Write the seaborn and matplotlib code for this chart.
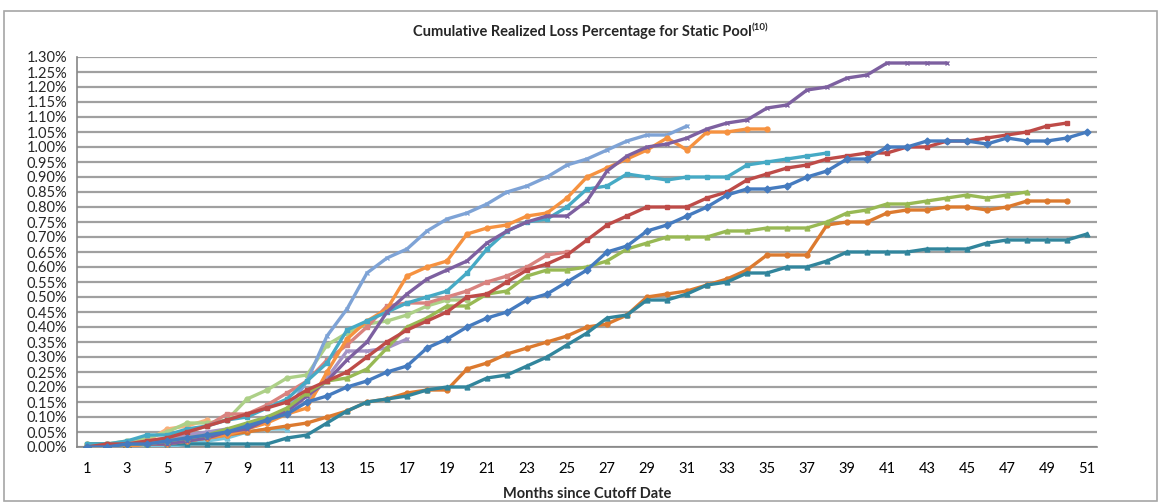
import matplotlib
matplotlib.use("Agg")
import matplotlib.pyplot as plt
from matplotlib.patches import Rectangle
import numpy as np
import pandas as pd
import seaborn as sns

# cumulative realized loss (%) by month since cutoff, one list per static pool
blue = [0.00, 0.00, 0.01, 0.01, 0.02, 0.03, 0.04, 0.05, 0.07, 0.09, 0.11, 0.15, 0.17, 0.20, 0.22, 0.25, 0.27,
        0.33, 0.36, 0.40, 0.43, 0.45, 0.49, 0.51, 0.55, 0.59, 0.65, 0.67, 0.72, 0.74, 0.77, 0.80, 0.84, 0.86,
        0.86, 0.87, 0.90, 0.92, 0.96, 0.96, 1.00, 1.00, 1.02, 1.02, 1.02, 1.01, 1.03, 1.02, 1.02, 1.03, 1.05]
red = [0.00, 0.01, 0.01, 0.02, 0.03, 0.05, 0.07, 0.09, 0.11, 0.13, 0.15, 0.19, 0.22, 0.25, 0.30, 0.35, 0.39,
       0.42, 0.45, 0.50, 0.51, 0.55, 0.59, 0.61, 0.64, 0.69, 0.74, 0.77, 0.80, 0.80, 0.80, 0.83, 0.85, 0.89,
       0.91, 0.93, 0.94, 0.96, 0.97, 0.98, 0.98, 1.00, 1.00, 1.02, 1.02, 1.03, 1.04, 1.05, 1.07, 1.08]
green = [0.00, 0.00, 0.01, 0.01, 0.02, 0.03, 0.04, 0.06, 0.08, 0.10, 0.13, 0.18, 0.22, 0.23, 0.26, 0.33, 0.40,
         0.43, 0.47, 0.47, 0.51, 0.52, 0.57, 0.59, 0.59, 0.60, 0.62, 0.66, 0.68, 0.70, 0.70, 0.70, 0.72, 0.72,
         0.73, 0.73, 0.73, 0.75, 0.78, 0.79, 0.81, 0.81, 0.82, 0.83, 0.84, 0.83, 0.84, 0.85]
purple = [0.00, 0.00, 0.01, 0.01, 0.01, 0.02, 0.03, 0.05, 0.06, 0.09, 0.12, 0.17, 0.22, 0.29, 0.35, 0.45, 0.51,
          0.56, 0.59, 0.62, 0.68, 0.72, 0.75, 0.77, 0.77, 0.82, 0.92, 0.97, 1.00, 1.01, 1.03, 1.06, 1.08, 1.09,
          1.13, 1.14, 1.19, 1.20, 1.23, 1.24, 1.28, 1.28, 1.28, 1.28]
aqua = [0.01, 0.01, 0.02, 0.04, 0.04, 0.06, 0.07, 0.09, 0.10, 0.13, 0.16, 0.22, 0.28, 0.39, 0.42, 0.45, 0.48,
        0.50, 0.52, 0.58, 0.66, 0.72, 0.75, 0.76, 0.80, 0.86, 0.87, 0.91, 0.90, 0.89, 0.90, 0.90, 0.90, 0.94,
        0.95, 0.96, 0.97, 0.98]
orange = [0.00, 0.00, 0.00, 0.01, 0.01, 0.02, 0.03, 0.04, 0.06, 0.08, 0.11, 0.13, 0.25, 0.36, 0.42, 0.46, 0.57,
          0.60, 0.62, 0.71, 0.73, 0.74, 0.77, 0.78, 0.83, 0.90, 0.93, 0.96, 0.99, 1.03, 0.99, 1.05, 1.05, 1.06,
          1.06]
dark_blue = [0.00, 0.00, 0.00]
teal = [0.01, 0.01, 0.01, 0.01, 0.01, 0.01, 0.01, 0.01, 0.01, 0.01, 0.03, 0.04, 0.08, 0.12, 0.15, 0.16, 0.17,
        0.19, 0.20, 0.20, 0.23, 0.24, 0.27, 0.30, 0.34, 0.38, 0.43, 0.44, 0.49, 0.49, 0.51, 0.54, 0.55, 0.58,
        0.58, 0.60, 0.60, 0.62, 0.65, 0.65, 0.65, 0.65, 0.66, 0.66, 0.66, 0.68, 0.69, 0.69, 0.69, 0.69, 0.71]
dark_orange = [0.00, 0.00, 0.01, 0.01, 0.01, 0.02, 0.03, 0.04, 0.05, 0.06, 0.07, 0.08, 0.10, 0.12, 0.15, 0.16,
               0.18, 0.19, 0.19, 0.26, 0.28, 0.31, 0.33, 0.35, 0.37, 0.40, 0.41, 0.44, 0.50, 0.51, 0.52, 0.54,
               0.56, 0.59, 0.64, 0.64, 0.64, 0.74, 0.75, 0.75, 0.78, 0.79, 0.79, 0.80, 0.80, 0.79, 0.80, 0.82,
               0.82, 0.82]
light_blue = [0.00, 0.00, 0.01, 0.01, 0.02, 0.03, 0.04, 0.05, 0.07, 0.09, 0.12, 0.22, 0.37, 0.46, 0.58, 0.63,
              0.66, 0.72, 0.76, 0.78, 0.81, 0.85, 0.87, 0.90, 0.94, 0.96, 0.99, 1.02, 1.04, 1.04, 1.07]
pink = [0.00, 0.01, 0.01, 0.02, 0.03, 0.05, 0.07, 0.11, 0.11, 0.14, 0.18, 0.22, 0.29, 0.34, 0.40, 0.47, 0.48,
        0.48, 0.50, 0.52, 0.55, 0.57, 0.60, 0.64, 0.65]
light_green = [0.01, 0.01, 0.02, 0.03, 0.05, 0.08, 0.08, 0.09, 0.16, 0.19, 0.23, 0.24, 0.34, 0.38, 0.41, 0.42,
               0.44, 0.47, 0.49, 0.49]
light_purple = [0.00, 0.00, 0.01, 0.01, 0.02, 0.04, 0.05, 0.06, 0.07, 0.10, 0.12, 0.15, 0.23, 0.32, 0.32, 0.33,
                0.36]
light_aqua = [0.00, 0.00, 0.00, 0.00, 0.00, 0.01, 0.02, 0.03, 0.05, 0.06, 0.06]
light_orange = [0.01, 0.01, 0.01, 0.02, 0.06, 0.07, 0.09]

series = [
    ("light_orange", light_orange, "#f9b07a", "o"),
    ("light_aqua", light_aqua, "#78c4dc", "^"),
    ("light_purple", light_purple, "#a593c5", "x"),
    ("light_green", light_green, "#add087", "o"),
    ("pink", pink, "#d9837f", "s"),
    ("light_blue", light_blue, "#7ea3d6", "x"),
    ("dark_orange", dark_orange, "#dc7a2f", "o"),
    ("teal", teal, "#31859c", "^"),
    ("dark_blue", dark_blue, "#2c4d75", "D"),
    ("orange", orange, "#f69240", "o"),
    ("aqua", aqua, "#46aac5", "s"),
    ("purple", purple, "#7d60a0", "x"),
    ("green", green, "#98b954", "^"),
    ("red", red, "#be4b48", "s"),
    ("blue", blue, "#457bbf", "D"),
]

rows = []
for name, vals, _, _ in series:
    for m, v in enumerate(vals, start=1):
        rows.append((name, m, v))
df = pd.DataFrame(rows, columns=["pool", "month", "loss"])

sns.set_style("white")
plt.rcParams["font.family"] = ["Lato", "DejaVu Sans"]

fig = plt.figure(figsize=(11.61, 5.04), dpi=100)
ax = fig.add_axes([77 / 1161, 1 - 447 / 504, 1020 / 1161, 390 / 504])

# outer chart frame
fig.patches.append(Rectangle((4 / 1161, 0.005), 1 - 8 / 1161, 1 - 14 / 504, transform=fig.transFigure,
                             fill=False, edgecolor="#a6a6a6", linewidth=1.2))

# draw oldest (top of legend) last so it sits on top like Excel
for name, vals, color, mk in series:
    sub = df[df["pool"] == name]
    sns.lineplot(data=sub, x="month", y="loss", ax=ax, color=color, linewidth=2.4,
                 marker=mk, markersize=3.5, markeredgewidth=1, markeredgecolor=color,
                 legend=False, zorder=3)

ax.set_xlim(0.5, 51.5)
ax.set_ylim(0, 1.30)
ax.set_yticks(np.arange(0, 1.301, 0.05))
ax.set_yticklabels([f"{v:.2f}%" for v in np.arange(0, 1.301, 0.05)])
ax.grid(axis="y", color="#a0a0a0", linewidth=1.6, zorder=0)
ax.grid(axis="x", visible=False)

ax.set_xticks(range(1, 52, 2))
ax.set_xticklabels([str(m) for m in range(1, 52, 2)])
ax.set_xticks(np.arange(0.5, 52, 1), minor=True)
ax.tick_params(axis="x", which="major", length=0, pad=11, labelsize=10.5, colors="black")
ax.tick_params(axis="x", which="minor", length=5, width=1, color="#868686", direction="out")
ax.tick_params(axis="y", which="major", length=5, width=1, color="#868686", direction="out",
               labelsize=10.5, pad=2)

for s in ["top", "right"]:
    ax.spines[s].set_visible(False)
for s in ["left", "bottom"]:
    ax.spines[s].set_color("#868686")
    ax.spines[s].set_linewidth(1.2)

ax.set_xlabel("Months since Cutoff Date", fontsize=10.5, fontweight="bold", labelpad=8)
ax.set_ylabel("")

fig.text(582 / 1161, 1 - 32 / 504, "Cumulative Realized Loss Percentage for Static Pool",
         ha="center", va="center", fontsize=10.5, fontweight="bold")
fig.text(752 / 1161, 1 - 28 / 504, "(10)", ha="left", va="center", fontsize=7, fontweight="bold")

fig.savefig("out.png", dpi=100)
